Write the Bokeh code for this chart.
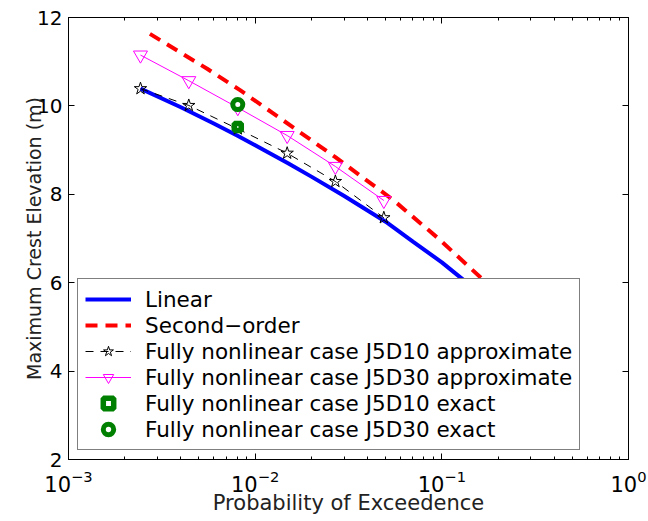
from bokeh.plotting import figure
from bokeh.models import (Range1d, FixedTicker, LogAxis, LinearAxis, Legend,
                          LegendItem, CustomJSTickFormatter)
from bokeh.embed import file_html
from bokeh.resources import INLINE

# ---------------- data ----------------
linear_p = [0.00243, 0.004, 0.006, 0.008, 0.01, 0.015, 0.02, 0.03, 0.05,
            0.07, 0.1, 0.13, 0.2, 0.3]
linear_v = [10.39, 9.97, 9.60, 9.33, 9.11, 8.70, 8.40, 7.96, 7.38,
            6.93, 6.46, 6.07, 5.40, 4.68]

second_p = [0.00273, 0.00553, 0.00834, 0.0126, 0.0269, 0.0553, 0.0964,
            0.168, 0.3]
second_v = [11.63, 10.84, 10.35, 9.82, 8.84, 7.86, 6.99, 6.05, 4.97]

nl_p = [0.00243, 0.00441, 0.00807, 0.01484, 0.0269, 0.0489]
j5d10_approx = [10.39, 10.01, 9.48, 8.93, 8.29, 7.47]
j5d30_approx = [11.15, 10.57, 9.96, 9.33, 8.63, 7.86]

exact_p = [0.00807]
j5d10_exact = [9.52]
j5d30_exact = [10.03]

x_ticks = [0.001, 0.01, 0.1, 1.0]
x_minor = [m * d for d in (0.001, 0.01, 0.1) for m in range(2, 10)]
y_ticks = [2, 4, 6, 8, 10, 12]

FONT = "DejaVu Sans"

p = figure(width=648, height=521, x_axis_type="log",
           x_range=Range1d(1e-3, 1.0), y_range=Range1d(2, 12),
           output_backend="svg", toolbar_location=None,
           min_border_left=68, min_border_right=20,
           min_border_top=17, min_border_bottom=62)
p.xgrid.visible = False
p.ygrid.visible = False
p.outline_line_color = "black"
p.background_fill_color = "white"
p.border_fill_color = "white"

xt = FixedTicker(ticks=x_ticks, minor_ticks=x_minor)
yt = FixedTicker(ticks=y_ticks, minor_ticks=[])


def style_axis(ax, labels=True):
    ax.axis_line_color = "black"
    ax.axis_line_width = 1
    ax.major_tick_in = 6
    ax.major_tick_out = 0
    ax.minor_tick_in = 3
    ax.minor_tick_out = 0
    ax.major_tick_line_color = "black"
    ax.minor_tick_line_color = "black"
    if labels:
        ax.major_label_text_font = FONT
        ax.major_label_text_font_size = "20px"
        ax.major_label_text_color = "black"
    else:
        ax.formatter = CustomJSTickFormatter(code="return ''")
        ax.major_label_standoff = 0


xa = p.xaxis[0]
xa.ticker = xt
style_axis(xa)
xa.major_label_text_font_size = "21px"
xa.major_label_standoff = 10
xa.axis_label = "Probability of Exceedence"
xa.axis_label_text_font = FONT
xa.axis_label_text_font_size = "21px"
xa.axis_label_text_font_style = "normal"
xa.axis_label_text_color = "#222222"
xa.axis_label_standoff = -4

ya = p.yaxis[0]
ya.ticker = yt
style_axis(ya)
ya.major_label_standoff = 6
ya.axis_label = "Maximum Crest Elevation (m)"
ya.axis_label_text_font = FONT
ya.axis_label_text_font_size = "19px"
ya.axis_label_text_font_style = "normal"
ya.axis_label_text_color = "#222222"
ya.axis_label_standoff = -11

top = LogAxis(ticker=xt)
style_axis(top, labels=False)
p.add_layout(top, "above")
right = LinearAxis(ticker=yt)
style_axis(right, labels=False)
p.add_layout(right, "right")

# ---------------- glyphs ----------------
r_lin = p.line(linear_p, linear_v, line_color="#0000FF", line_width=4)
r_sec = p.line(second_p, second_v, line_color="#FF0000", line_width=4,
               line_dash="12 8")
r_a10l = p.line(nl_p, j5d10_approx, line_color="black", line_width=1,
                line_dash="8 7")
r_a30l = p.line(nl_p, j5d30_approx, line_color="#FF00FF", line_width=1)
r_a10m = p.scatter(nl_p, j5d10_approx, marker="star", size=13,
                   line_color="black", fill_color="white", fill_alpha=0,
                   line_width=1)
r_a30m = p.scatter(nl_p, j5d30_approx, marker="inverted_triangle", size=14,
                   line_color="#FF00FF", fill_alpha=0, line_width=1)
r_e10 = p.scatter(exact_p, j5d10_exact, marker="square", size=7,
                  line_color="#008000", fill_color="white", line_width=5.5)
r_e30 = p.scatter(exact_p, j5d30_exact, marker="circle", size=10,
                  line_color="#008000", fill_color="white", line_width=5)

legend = Legend(items=[
    LegendItem(label="Linear", renderers=[r_lin]),
    LegendItem(label="Second\u2212order", renderers=[r_sec]),
    LegendItem(label="Fully nonlinear case J5D10 approximate",
               renderers=[r_a10l, r_a10m]),
    LegendItem(label="Fully nonlinear case J5D30 approximate",
               renderers=[r_a30l, r_a30m]),
    LegendItem(label="Fully nonlinear case J5D10 exact", renderers=[r_e10]),
    LegendItem(label="Fully nonlinear case J5D30 exact", renderers=[r_e30]),
], location=(9, 9), padding=7, spacing=0, label_height=26, glyph_height=26,
    glyph_width=46, label_standoff=14, margin=0,
    label_text_font=FONT, label_text_font_size="21.5px",
    label_text_color="black",
    border_line_color="black", border_line_width=1,
    background_fill_color="white", background_fill_alpha=1.0)
p.add_layout(legend)

open("out.html", "w").write(file_html(p, INLINE))
